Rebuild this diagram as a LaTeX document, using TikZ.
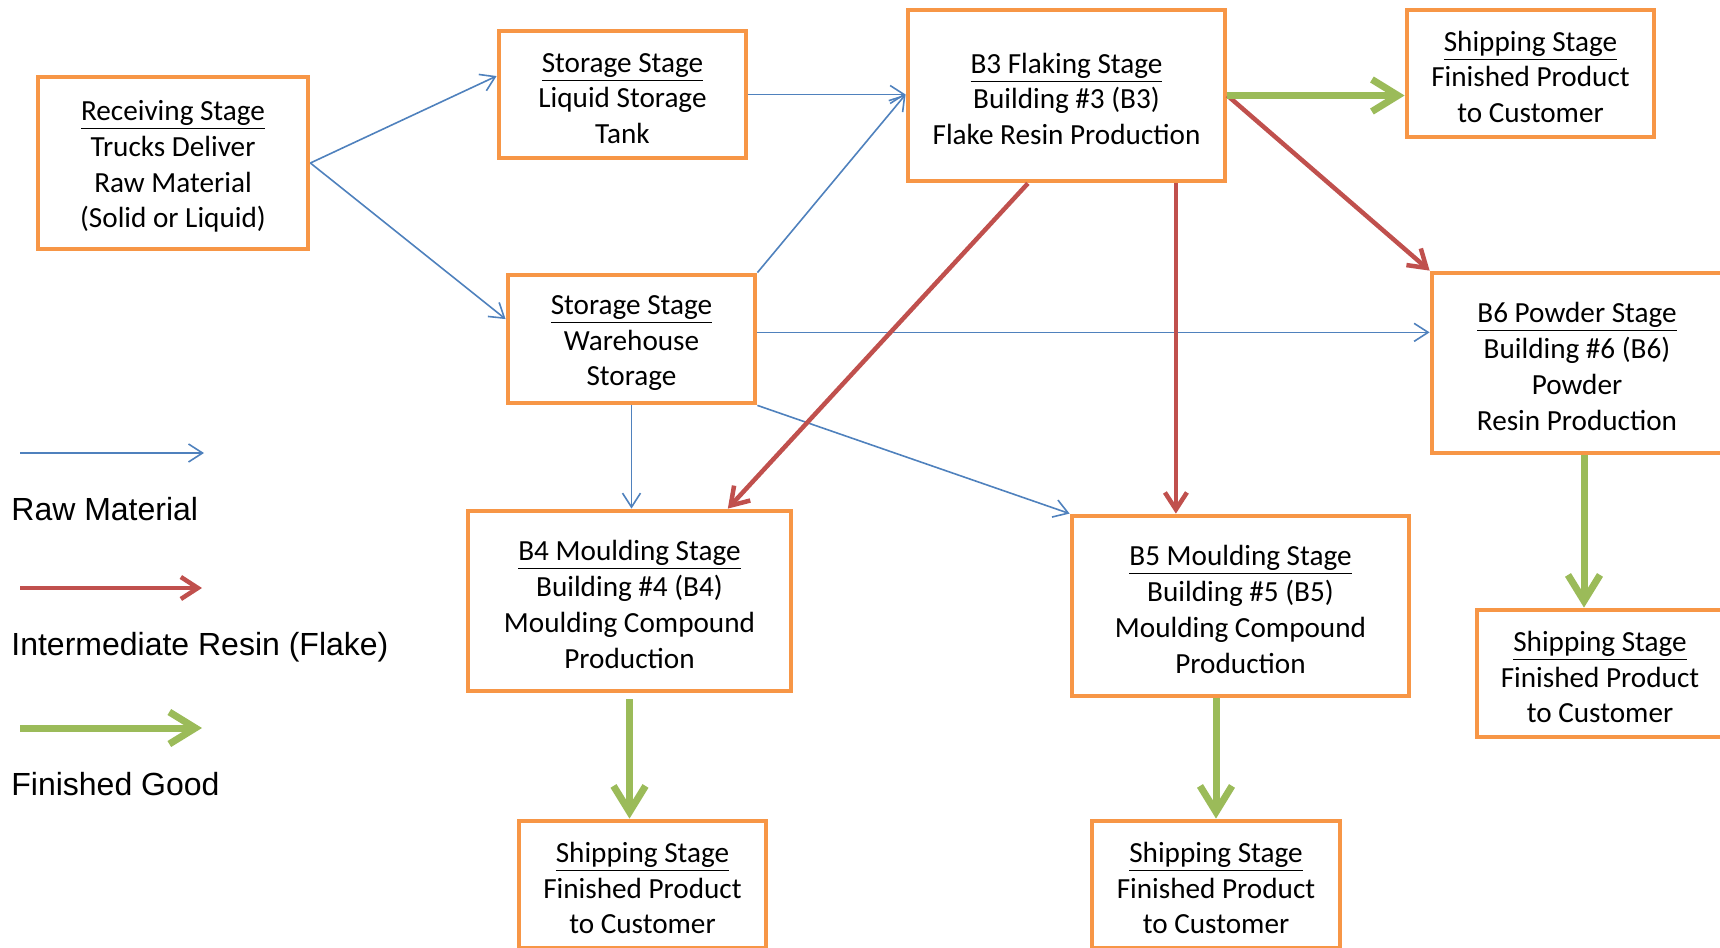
\documentclass[tikz,border=0pt]{standalone}
\usepackage{fontspec}
\setmainfont{Carlito}
\newfontfamily\legendfont{Liberation Sans}
\usetikzlibrary{positioning,arrows.meta,calc}
\definecolor{sorange}{HTML}{F79646}
\definecolor{sblue}{HTML}{4F81BD}
\definecolor{sred}{HTML}{C0504D}
\definecolor{sgreen}{HTML}{9BBB59}
\newcommand{\stage}[2]{\rule{0pt}{13.6pt}\underline{#1}\\#2}

\begin{document}
\begin{tikzpicture}[x=0.5pt, y=-0.5pt,
  stagebox/.style={draw=sorange, line width=2.4pt, fill=white, align=center, inner sep=0pt,
    font=\fontsize{14.6}{17.9}\selectfont},
  legend/.style={anchor=west, inner sep=0pt, font=\legendfont\fontsize{16}{19}\selectfont},
  raw/.style={-{Straight Barb[length=7pt,width=9pt]}, sblue, line width=0.8pt},
  flake/.style={-{Straight Barb[length=8.5pt,width=11pt]}, sred, line width=2.25pt},
  good/.style={-{Straight Barb[length=13pt,width=16pt]}, sgreen, line width=3.5pt}]
 \useasboundingbox (0,0) rectangle (1720,948);
 \clip (0,0) rectangle (1720,948);
 \node[stagebox, minimum width=135pt, minimum height=86pt] (recv) at (173,163) {\stage{Receiving Stage}{Trucks Deliver\\Raw Material\\(Solid or Liquid)}};
 \node[stagebox, minimum width=123.5pt, minimum height=63.5pt] (liquid) at (622.5,94.5) {\stage{Storage Stage}{Liquid Storage\\Tank}};
 \node[stagebox, minimum width=158.5pt, minimum height=85.5pt] (b3) at (1066.5,95.5) {\stage{B3 Flaking Stage}{Building \#3 (B3)\\Flake Resin Production}};
 \node[stagebox, minimum width=123.5pt, minimum height=63.5pt] (shipa) at (1530.5,73.5) {\stage{Shipping Stage}{Finished Product\\to Customer}};
 \node[stagebox, minimum width=123.5pt, minimum height=64pt] (ware) at (631.5,339) {\stage{Storage Stage}{Warehouse\\Storage}};
 \node[stagebox, minimum width=145pt, minimum height=90pt] (b6) at (1577,363) {\stage{B6 Powder Stage}{Building \#6 (B6)\\Powder\\Resin Production}};
 \node[stagebox, minimum width=161.5pt, minimum height=90pt] (b4) at (629.5,601) {\stage{B4 Moulding Stage}{Building \#4 (B4)\\Moulding Compound\\Production}};
 \node[stagebox, minimum width=168.5pt, minimum height=90pt] (b5) at (1240.5,606) {\stage{B5 Moulding Stage}{Building \#5 (B5)\\Moulding Compound\\Production}};
 \node[stagebox, minimum width=123pt, minimum height=63.5pt] (shipc) at (1600,673.5) {\stage{Shipping Stage}{Finished Product\\to Customer}};
 \node[stagebox, minimum width=123.5pt, minimum height=63.5pt] (shipb) at (642.5,884.5) {\stage{Shipping Stage}{Finished Product\\to Customer}};
 \node[stagebox, minimum width=124pt, minimum height=63.5pt] (shipd) at (1216,884.5) {\stage{Shipping Stage}{Finished Product\\to Customer}};
 \coordinate (wareR) at ($(ware.north east)!0.45!(ware.south east)$);
 \coordinate (b3L) at ($(b3.south west)!0.38!(b3.south east)$);
 \coordinate (b3R) at ($(b3.south west)!0.84!(b3.south east)$);
 \coordinate (b4T) at ($(b4.north west)!0.8!(b4.north east)$);
 \coordinate (b6D) at ($(b6.south)+(7,0)$);
 \draw[raw] (recv.east) -- ($(liquid.north west)!0.36!(liquid.south west)$);
 \draw[raw] (recv.east) -- ($(ware.north west)!0.35!(ware.south west)$);
 \draw[raw] (liquid.east) -- (liquid.east -| b3.west);
 \draw[raw] (ware.north east) -- (liquid.east -| b3.west);
 \draw[raw] (wareR) -- (wareR -| b6.west);
 \draw[raw] (ware.south east) -- (b5.north west);
 \draw[raw] (ware.south) -- (ware.south |- b4.north);
 \draw[flake] (b3L) -- (b4T);
 \draw[flake] (b3R) -- (b3R |- b5.north);
 \draw[flake] (b3.east) -- (b6.north west);
 \draw[good] (b3.east) -- (b3.east -| shipa.west);
 \draw[good] (b6D) -- (b6D |- shipc.north);
 \draw[good, shorten <=3pt] (b4.south) -- (b4.south |- shipb.north);
 \draw[good] (shipd.north |- b5.south) -- (shipd.north);
 \coordinate (rawA) at (20,453);
 \coordinate (rawB) at (204,453);
 \coordinate (flakeA) at (20,588);
 \coordinate (flakeB) at (202,588);
 \coordinate (goodA) at (20,728);
 \coordinate (goodB) at (202,728);
 \draw[raw] (rawA) -- (rawB);
 \draw[flake] (flakeA) -- (flakeB);
 \draw[good] (goodA) -- (goodB);
 \node[legend] (rawtext) at (11,509) {Raw Material};
 \node[legend] (flaketext) at (11,647) {Intermediate Resin (Flake)};
 \node[legend] (goodtext) at (11,784) {Finished Good};
\end{tikzpicture}
\end{document}
